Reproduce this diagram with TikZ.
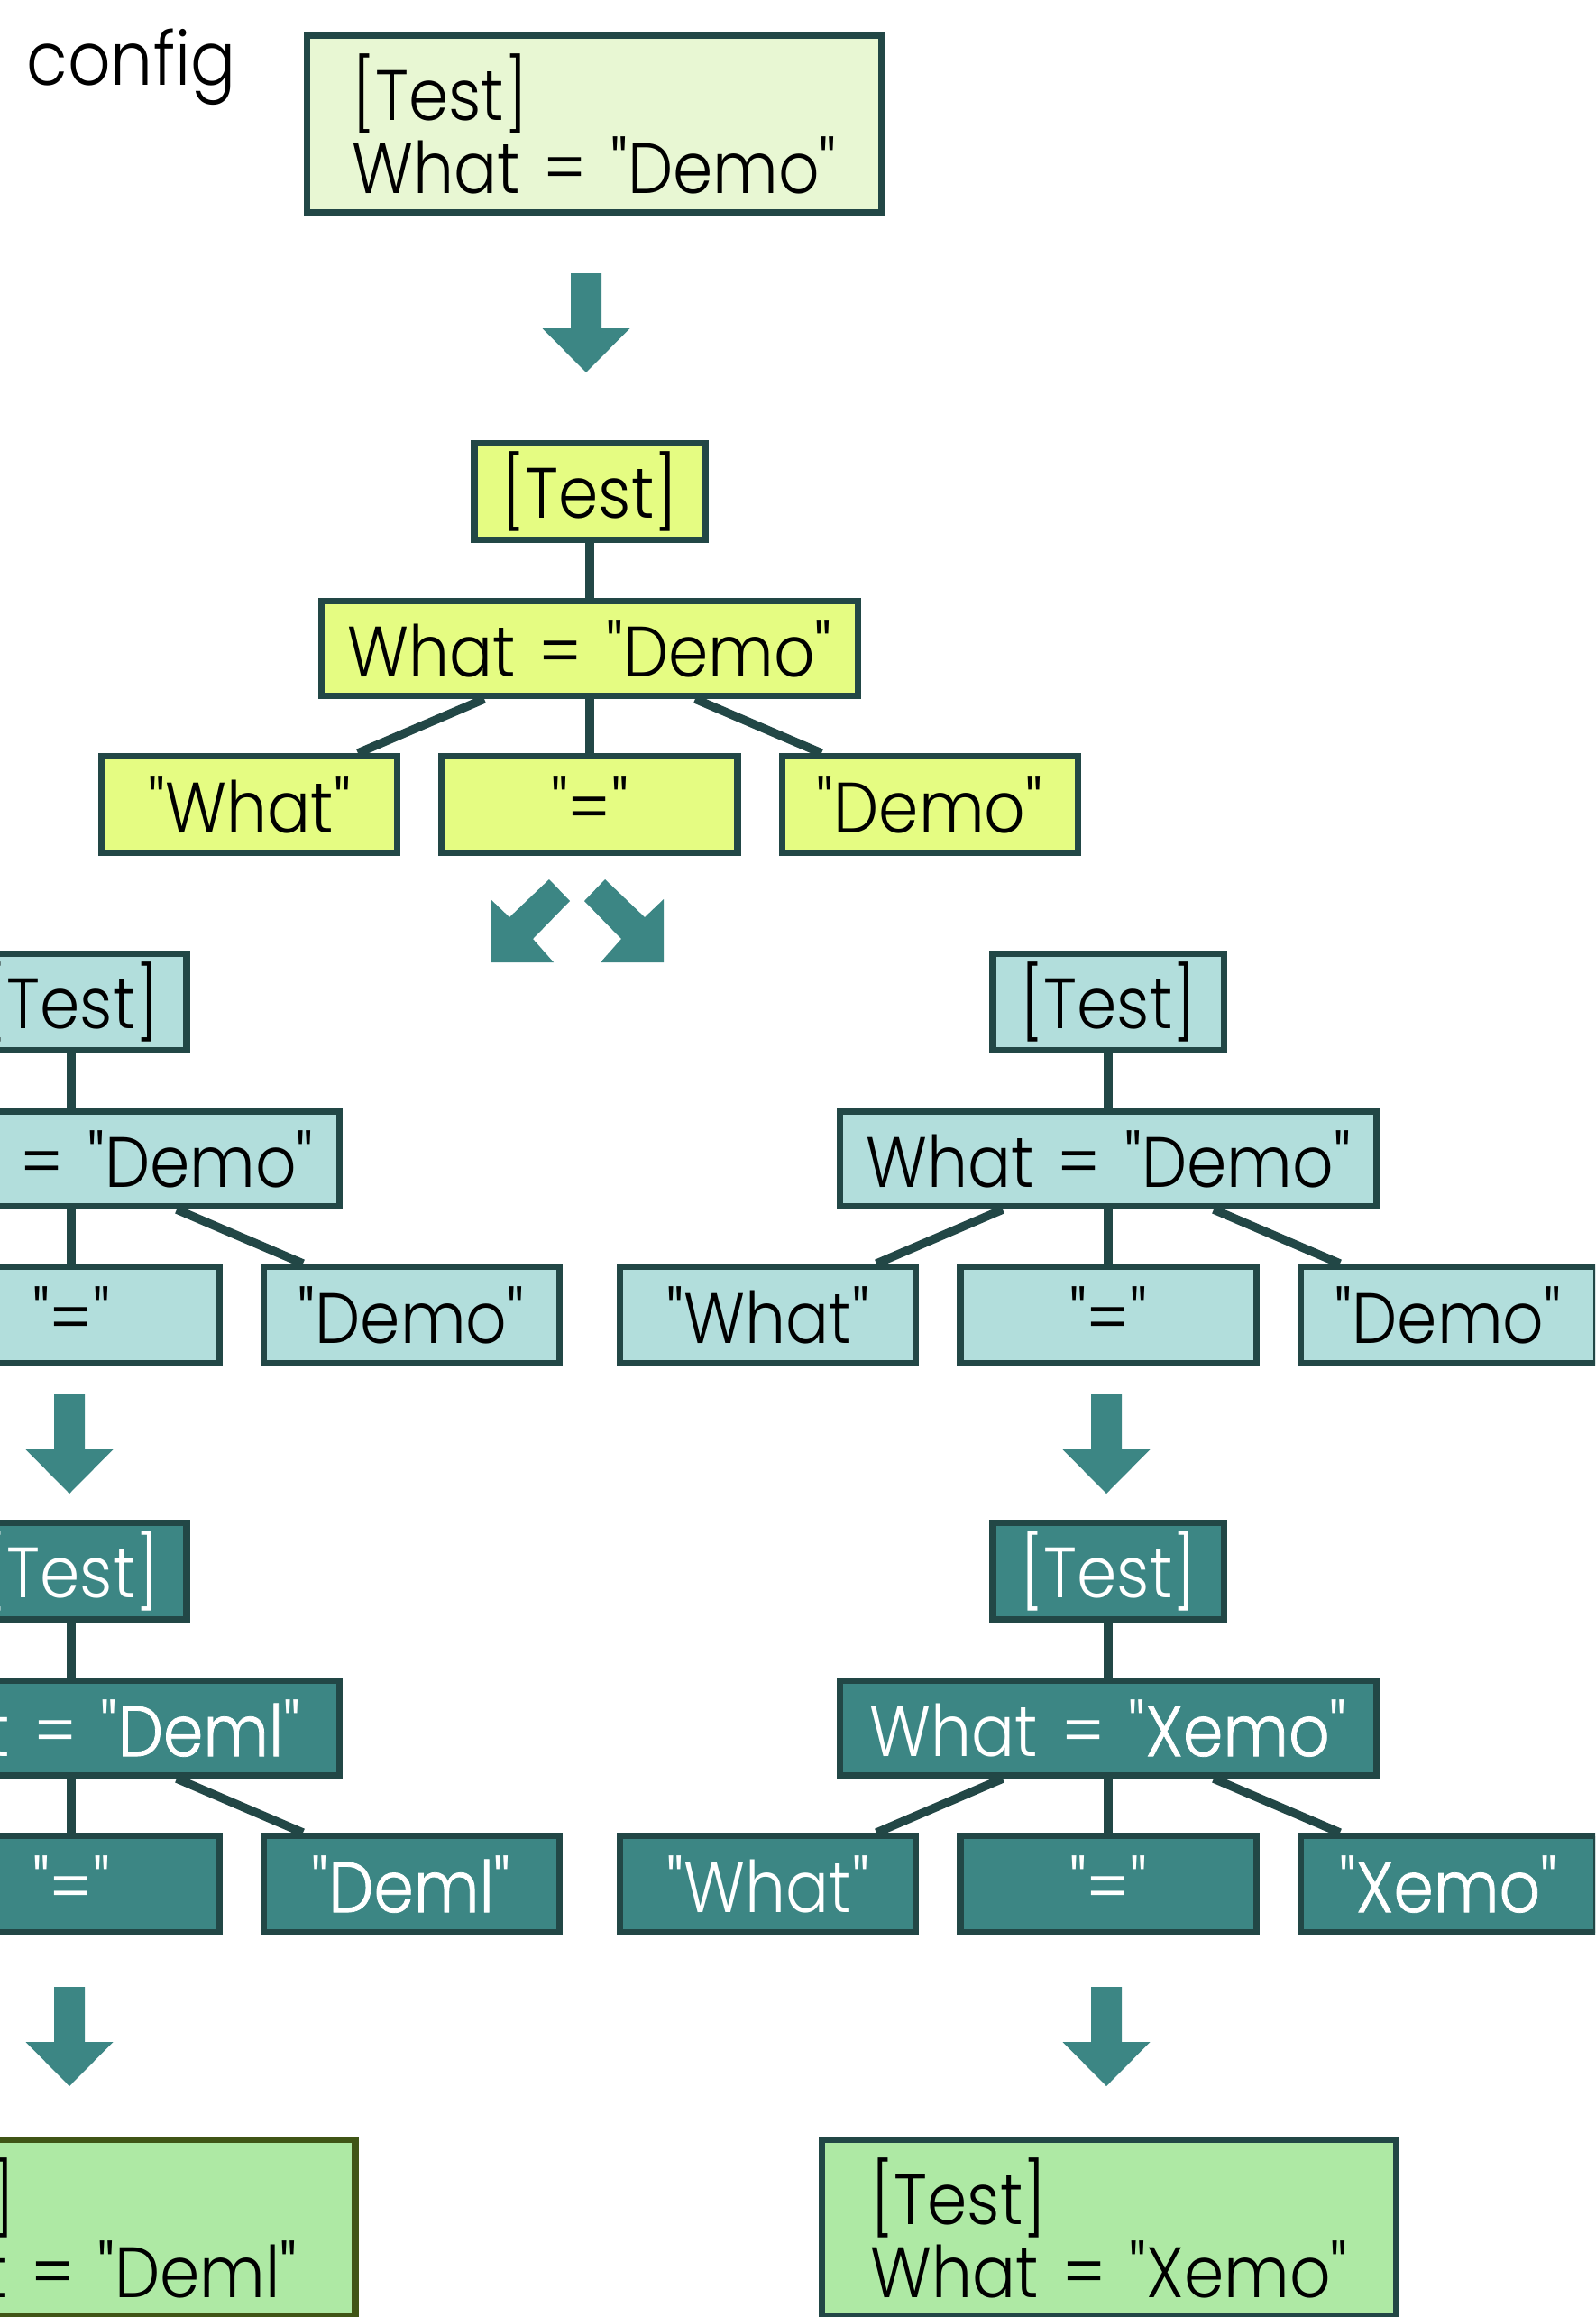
\documentclass[tikz,border=0pt]{standalone}
\usepackage{fontspec}
\IfFontExistsTF{Poppins Light}{\setmainfont{Poppins Light}[Ligatures=TeXOff,FakeStretch=0.9,WordSpace=1.35]}{\setmainfont{Poppins}[Ligatures=TeXOff,FakeStretch=0.9,WordSpace=1.35]}
\usetikzlibrary{calc,positioning}

\definecolor{cfgfill}{HTML}{E8F7D3}
\definecolor{parsefill}{HTML}{E5FC82}
\definecolor{lexfill}{HTML}{B2DEDC}
\definecolor{arrowteal}{HTML}{3C8684}
\definecolor{outfill}{HTML}{AEE9A4}
\definecolor{boxline}{HTML}{224746}
\definecolor{oliveline}{HTML}{405516}

\def\boxfont{\fontsize{22.5}{23}\selectfont}
\def\chg#1{{\addfontfeature{FakeBold=1}#1}}

\tikzset{
	box/.style={draw=boxline, line width=2pt, inner sep=0pt, font=\boxfont},
	secbox/.style={box, minimum width=2.56cm, minimum height=1.07cm},
	kvbox/.style={box, minimum width=5.95cm, minimum height=1.05cm},
	tokbox/.style={box, minimum width=3.28cm, minimum height=1.07cm},
	filebox/.style={box, minimum width=6.37cm, minimum height=1.96cm, align=left},
	link/.style={draw=boxline, line width=2.7pt},
	parsebox/.style={fill=parsefill},
	lexbox/.style={fill=lexfill},
	darkbox/.style={fill=arrowteal, text=white}
}

% one section tree: style, centre of [Test], name, value
\def\kvtree[#1](#2)#3#4{%
	\node[secbox,#1] (#3sec) at (#2) {[Test]};
	\node[kvbox,#1,below=0.61cm of #3sec] (#3kv) {What = "#4"};
	\node[tokbox,#1,below=0.6cm of #3kv] (#3eq) {"="};
	\node[tokbox,#1,left=0.42cm of #3eq] (#3key) {"What"};
	\node[tokbox,#1,right=0.42cm of #3eq] (#3val) {"#4"};
	\draw[link] (#3sec) -- (#3kv);
	\draw[link] (#3kv) -- (#3eq);
	\draw[link] ($(#3kv.south)+(-1.17,0)$) -- ($(#3key.north)+(1.2,0)$);
	\draw[link] ($(#3kv.south)+(1.17,0)$) -- ($(#3val.north)+(-1.2,0)$);
}
\def\downarrowat(#1,#2){\fill[arrowteal] (#1-0.17,#2) -- (#1+0.17,#2) -- (#1+0.17,#2-0.61) -- (#1+0.485,#2-0.61) -- (#1,#2-1.10) -- (#1-0.485,#2-0.61) -- (#1-0.17,#2-0.61) -- cycle;}

\begin{document}
\begin{tikzpicture}
	%%%%% START %%%%%
	\useasboundingbox (0,0) rectangle (17.69,-25.69);
	\clip (0,0) rectangle (17.69,-25.69);
	
	\node[font=\fontsize{23.5}{26}\selectfont, anchor=base west, inner sep=0pt] (cfglabel) at (0.29,-0.95) {config};
	\node[filebox, fill=cfgfill] (cfg) at (6.59,-1.375) {[Test]\\What = "Demo"};
	
	\downarrowat(6.50,-3.03)
	
	% parse tree
	\kvtree[parsebox](6.54,-5.45){p}{Demo}
	
	% split
	\fill[arrowteal] (6.09,-9.75) -- (6.32,-9.99) -- (5.91,-10.41) -- (6.14,-10.67) -- (5.44,-10.67) -- (5.44,-9.97) -- (5.65,-10.17) -- cycle;
	\fill[arrowteal] (6.71,-9.75) -- (6.48,-9.99) -- (6.89,-10.41) -- (6.66,-10.67) -- (7.36,-10.67) -- (7.36,-9.97) -- (7.15,-10.17) -- cycle;
	
	\kvtree[lexbox](0.79,-11.11){la}{Demo}
	\kvtree[lexbox](12.29,-11.11){ra}{Demo}
	
	\downarrowat(0.77,-15.46)
	\downarrowat(12.27,-15.46)
	
	\kvtree[darkbox](0.79,-17.42){lb}{\chg{Deml}}
	\kvtree[darkbox](12.29,-17.42){rb}{\chg{Xemo}}
	
	\downarrowat(0.77,-22.03)
	\downarrowat(12.27,-22.03)
	
	\node[filebox, fill=outfill, draw=oliveline] (outl) at (0.755,-24.705) {[Test]\\What = "Deml"};
	\node[filebox, fill=outfill] (outr) at (12.30,-24.705) {[Test]\\What = "Xemo"};
	%%%%% END %%%%%
\end{tikzpicture}
\end{document}
